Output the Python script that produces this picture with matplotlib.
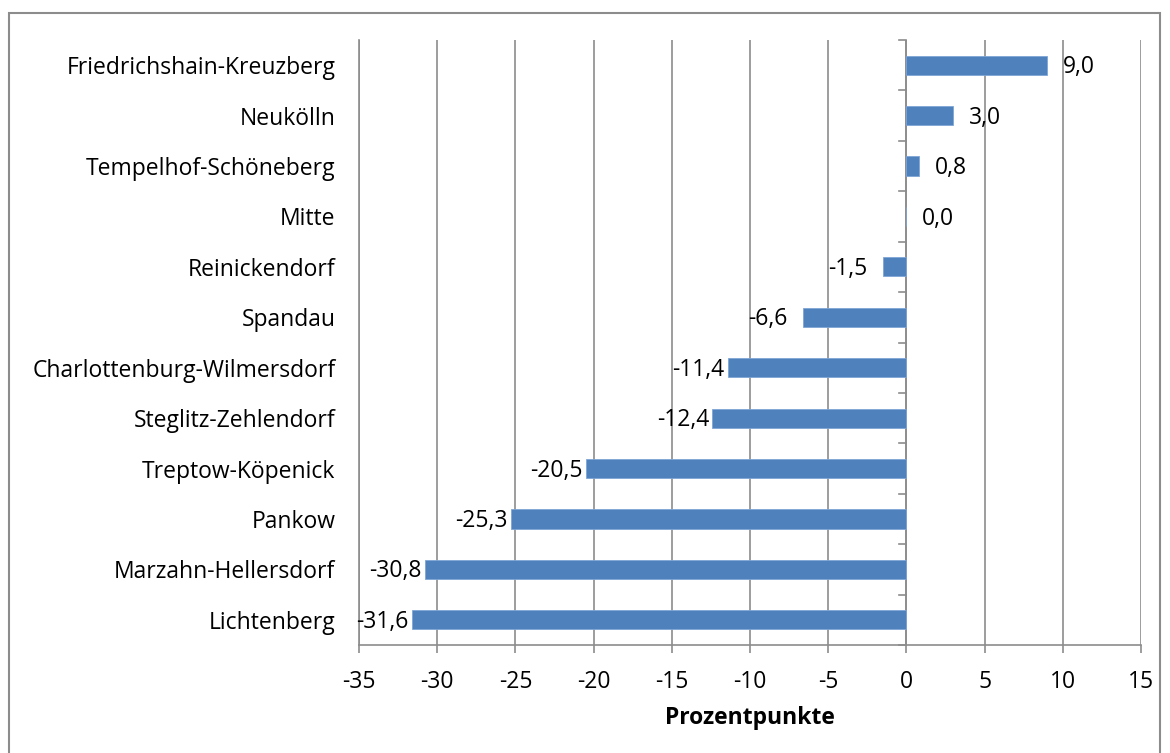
import matplotlib
matplotlib.use('Agg')
import matplotlib.pyplot as plt
from matplotlib.patches import Rectangle

# Bezirke von unten nach oben
bezirke = ['Lichtenberg', 'Marzahn-Hellersdorf', 'Pankow', 'Treptow-Köpenick',
           'Steglitz-Zehlendorf', 'Charlottenburg-Wilmersdorf', 'Spandau',
           'Reinickendorf', 'Mitte', 'Tempelhof-Schöneberg', 'Neukölln',
           'Friedrichshain-Kreuzberg']
werte = [-31.6, -30.8, -25.3, -20.5, -12.4, -11.4, -6.6, -1.5, 0.0, 0.8, 3.0, 9.0]
xticks = [-35, -30, -25, -20, -15, -10, -5, 0, 5, 10, 15]

plt.rcParams['font.family'] = ['Open Sans', 'DejaVu Sans']
grau = '#8c8c8c'
fs = 16.5

fig = plt.figure(figsize=(11.7, 7.53), dpi=100)
fig.patches.append(Rectangle((9/1170, -0.05), 1151/1170, 1 - 13/753 + 0.05,
                             transform=fig.transFigure, fill=False,
                             edgecolor=grau, linewidth=1.5))

ax = fig.add_axes([359/1170, 1 - 645/753, 782/1170, 605/753])
y = list(range(len(bezirke)))
ax.barh(y, werte, height=0.38, color='#4F81BD', edgecolor='#7ea5d6', linewidth=0.6, zorder=3)

# Datenbeschriftungen wie in Excel: positive rechts, negative links vom Balkenende
for yi, v in zip(y, werte):
    txt = '{:.1f}'.format(v).replace('.', ',')
    if v >= 0:
        ax.annotate(txt, (v, yi), xytext=(11.5, -1.5), textcoords='offset points',
                    ha='left', va='center', fontsize=fs, zorder=4)
    else:
        off = -2.5 if len(txt) > 4 else -11
        ax.annotate(txt, (v, yi), xytext=(off, -1.5), textcoords='offset points',
                    ha='right', va='center', fontsize=fs, zorder=4)

ax.set_xlim(-35, 15)
ax.set_ylim(-0.5, len(bezirke) - 0.5)
ax.set_xticks(xticks)
ax.set_xticklabels([str(t) for t in xticks], fontsize=fs)
ax.tick_params(axis='x', direction='out', length=6, color=grau, width=1.2, pad=12)
ax.grid(axis='x', color=grau, linewidth=1.2, zorder=0)

# Kategorien-Achse liegt bei 0, Beschriftung links
ax.set_yticks(y)
ax.set_yticklabels(bezirke, fontsize=fs)
ax.tick_params(axis='y', length=0, pad=17)
ax.axvline(0, color=grau, linewidth=1.2, zorder=2)
for b in [i - 0.5 for i in range(len(bezirke) + 1)]:
    ax.plot([-0.45, 0], [b, b], color=grau, linewidth=1.2, zorder=2, clip_on=False)

for s in ['top', 'right']:
    ax.spines[s].set_visible(False)
ax.spines['left'].set_color(grau)
ax.spines['left'].set_linewidth(1.2)
ax.spines['bottom'].set_color(grau)
ax.spines['bottom'].set_linewidth(1.2)

ax.set_xlabel('Prozentpunkte', fontsize=fs, fontweight='bold', labelpad=9)

fig.savefig('out.png', dpi=100)
